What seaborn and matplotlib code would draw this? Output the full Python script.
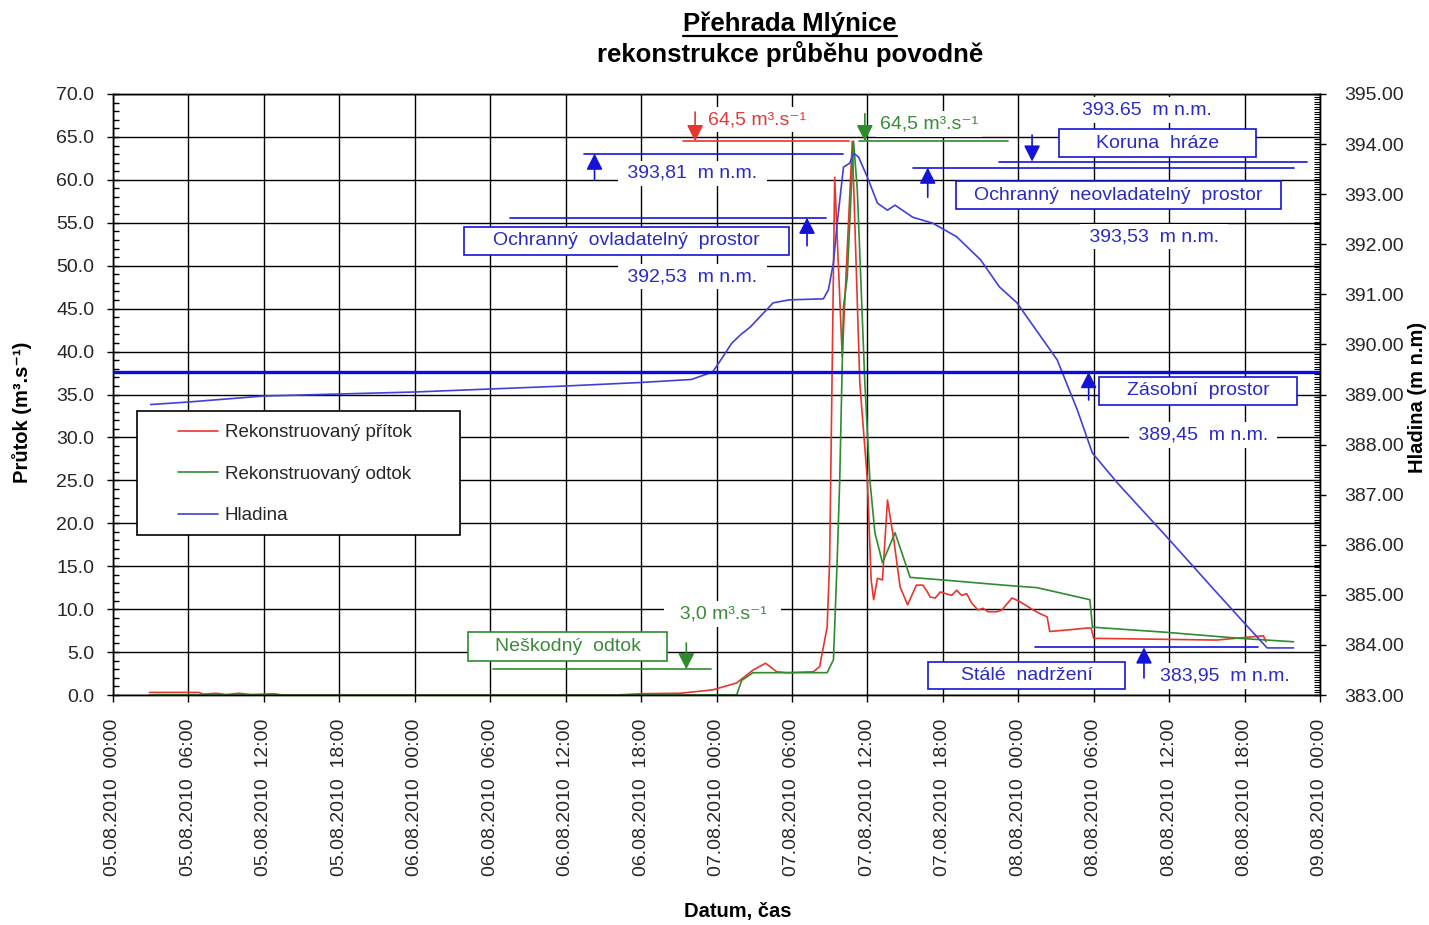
import matplotlib
matplotlib.use("Agg")
import matplotlib.pyplot as plt
import matplotlib.transforms as mtransforms
import seaborn as sns
import pandas as pd
from matplotlib.lines import Line2D
from matplotlib.patches import Rectangle
from matplotlib.ticker import MultipleLocator, FormatStrFormatter

# ---------------- data (hours since 05.08.2010 00:00) ----------------
inflow_hours = [2.9, 6.8, 7.2, 8.2, 9.0, 10.0, 11.0, 12.8, 13.5, 40.0, 42.0, 45.1, 47.7, 49.6,
                50.9, 51.9, 52.8, 53.6, 55.7, 56.2, 56.8, 57.0, 57.4, 58.0, 58.8, 59.4, 60.0,
                60.3, 60.5, 60.8, 61.2, 61.6, 62.1, 62.6, 63.2, 63.9, 64.4, 64.7, 65.0, 65.4,
                65.8, 66.7, 67.1, 67.5, 67.9, 68.3, 68.8, 69.2, 69.6, 70.3, 70.7, 71.5, 72.1,
                73.2, 73.7, 74.3, 74.5, 76.1, 77.5, 77.8, 78.0, 87.8, 91.5, 91.7]
inflow_values = [0.3, 0.3, 0.1, 0.2, 0.05, 0.2, 0.05, 0.15, 0.0, 0.0, 0.15, 0.2, 0.6, 1.4,
                 2.9, 3.7, 2.7, 2.6, 2.7, 3.3, 7.9, 15.7, 60.3, 39.4, 64.5, 36.3, 25.0,
                 13.4, 11.1, 13.6, 13.4, 22.7, 18.1, 12.6, 10.5, 12.8, 12.8, 12.2, 11.4, 11.3,
                 12.0, 11.6, 12.2, 11.6, 11.8, 10.7, 9.9, 10.1, 9.7, 9.7, 9.9, 11.3, 10.9,
                 9.9, 9.5, 9.1, 7.4, 7.6, 7.8, 7.8, 6.6, 6.4, 6.9, 6.2]

outflow_hours = [2.9, 49.6, 50.0, 50.9, 56.8, 57.3, 57.6, 57.8, 58.1, 58.4, 58.9, 59.2, 59.8,
                 60.2, 60.6, 61.2, 62.2, 62.8, 63.4, 66.0, 70.8, 73.5, 77.7, 77.9, 83.8,
                 89.6, 93.9]
outflow_values = [0.0, 0.0, 1.7, 2.6, 2.6, 4.1, 15.7, 25.0, 45.2, 48.7, 64.5, 58.8, 36.3,
                  25.0, 18.9, 15.4, 18.9, 16.3, 13.7, 13.4, 12.8, 12.5, 11.1, 7.9, 7.3,
                  6.6, 6.2]

level_hours = [3.0, 6.0, 12.0, 18.0, 24.0, 30.0, 36.0, 42.0, 46.0, 47.7, 48.5, 49.2, 49.9,
               50.7, 52.5, 53.8, 56.5, 56.9, 57.3, 57.6, 58.1, 58.6, 58.9, 59.3, 60.0,
               60.8, 61.6, 62.2, 63.6, 65.2, 67.1, 69.0, 70.5, 71.9, 75.1, 76.7, 77.9,
               79.9, 83.8, 87.8, 90.7, 91.8, 93.9]
level_values = [388.80, 388.85, 388.97, 389.01, 389.05, 389.11, 389.17, 389.24, 389.30,
                389.45, 389.75, 390.02, 390.19, 390.35, 390.83, 390.89, 390.91, 391.09,
                391.63, 392.42, 393.54, 393.62, 393.82, 393.74, 393.34, 392.82, 392.68,
                392.78, 392.54, 392.42, 392.15, 391.69, 391.15, 390.83, 389.69, 388.69,
                387.83, 387.23, 386.16, 385.04, 384.24, 383.94, 383.94]

tick_hours = [0, 6, 12, 18, 24, 30, 36, 42, 48, 54, 60, 66, 72, 78, 84, 90, 96]
tick_labels = ["05.08.2010  00:00", "05.08.2010  06:00", "05.08.2010  12:00",
               "05.08.2010  18:00", "06.08.2010  00:00", "06.08.2010  06:00",
               "06.08.2010  12:00", "06.08.2010  18:00", "07.08.2010  00:00",
               "07.08.2010  06:00", "07.08.2010  12:00", "07.08.2010  18:00",
               "08.08.2010  00:00", "08.08.2010  06:00", "08.08.2010  12:00",
               "08.08.2010  18:00", "09.08.2010  00:00"]

peak_inflow = 64.5
peak_outflow = 64.5
harmless_outflow = 3.0
max_level = 393.81
crest_level = 393.65
uncontrolled_level = 393.53
controlled_level = 392.53
storage_level = 389.45
permanent_level = 383.95

# ---------------- style ----------------
sns.set_style("white")
plt.rcParams["font.family"] = ["Liberation Sans", "DejaVu Sans"]

RED = "#e8352d"
GREEN = "#2e8b2e"
BLUE = "#4040d8"
ABLUE = "#1414d8"
TBLUE = "#2a2ac8"
TRED = "#e03a3a"
TGREEN = "#3a8a3a"
TICKC = "#262626"

fig = plt.figure(figsize=(14.29, 9.25), dpi=100)
fig.patch.set_facecolor("white")
ax = fig.add_axes([113 / 1429, 1 - 695 / 925, 1207 / 1429, 601 / 925])
ax2 = ax.twinx()

df_in = pd.DataFrame({"t": inflow_hours, "q": inflow_values})
df_out = pd.DataFrame({"t": outflow_hours, "q": outflow_values})
df_lvl = pd.DataFrame({"t": level_hours, "h": level_values})

sns.lineplot(data=df_in, x="t", y="q", ax=ax, color=RED, linewidth=1.2,
             sort=False, estimator=None, legend=False)
sns.lineplot(data=df_out, x="t", y="q", ax=ax, color=GREEN, linewidth=1.2,
             sort=False, estimator=None, legend=False)
sns.lineplot(data=df_lvl, x="t", y="h", ax=ax2, color=BLUE, linewidth=1.2,
             sort=False, estimator=None, legend=False)

ax.set_xlim(0, 96)
ax.set_ylim(0, 70)
ax2.set_ylim(383, 395)

ax.set_axisbelow(True)
ax.grid(True, which="major", color="black", linewidth=1)
ax2.grid(False)

ax.set_xticks(tick_hours)
ax.set_xticklabels(tick_labels, rotation=90, fontsize=14, color=TICKC)
ax.set_yticks(range(0, 71, 5))
ax.yaxis.set_major_formatter(FormatStrFormatter("%.1f"))
ax.yaxis.set_minor_locator(MultipleLocator(1))
ax2.set_yticks(range(383, 396))
ax2.yaxis.set_major_formatter(FormatStrFormatter("%.2f"))
ax2.yaxis.set_minor_locator(MultipleLocator(0.05))

ax.tick_params(axis="x", which="major", direction="out", length=5, width=1,
               pad=12, bottom=True, labelsize=14, labelcolor=TICKC, color="black")
ax.tick_params(axis="y", which="major", direction="inout", length=9, width=1,
               pad=9, left=True, right=False, labelsize=14, labelcolor=TICKC, color="black")
ax.tick_params(axis="y", which="minor", direction="in", length=4.5, width=1,
               left=True, right=False, color="black")
ax2.tick_params(axis="y", which="major", direction="inout", length=9, width=1,
                pad=13, right=True, labelsize=14, labelcolor=TICKC, color="black")
ax2.tick_params(axis="y", which="minor", direction="in", length=4.5, width=0.8,
                right=True, color="black")

for a in (ax, ax2):
    for s in a.spines.values():
        s.set_color("black")
        s.set_linewidth(1)
        s.set_visible(True)

ax.set_xlabel("Datum, čas", fontsize=14.5, fontweight="bold", color="black")
ax.set_ylabel("Průtok (m³.s⁻¹)", fontsize=14.5, fontweight="bold", color="black")
ax2.set_ylabel("Hladina (m n.m)", fontsize=14.5, fontweight="bold", color="black")
ax.xaxis.label.set_va("center")
ax.yaxis.label.set_va("center")
ax2.yaxis.label.set_va("center")
ax.xaxis.set_label_coords(0.518, -0.361)
ax.yaxis.set_label_coords(-0.0754, 0.471)
ax2.yaxis.set_label_coords(1.081, 0.495)

# ---------------- annotations ----------------
trQ = ax.transData     # hours / flow
trH = ax2.transData    # hours / level


def hline(tr, y, x0, x1, color, lw=1.2):
    ax2.add_line(Line2D([x0, x1], [y, y], transform=tr, color=color, lw=lw, zorder=4))


def arrow(tr, x, y0, y1, color):
    ax2.annotate("", xy=(x, y1), xytext=(x, y0), xycoords=tr, textcoords=tr,
                 arrowprops=dict(arrowstyle="-|>,head_length=0.75,head_width=0.38",
                                 color=color, lw=1.2, shrinkA=0, shrinkB=0,
                                 mutation_scale=13), zorder=5)


def label(tr, x, y, s, color, ha="center"):
    ax2.text(x, y, s, transform=tr, ha=ha, va="center", fontsize=14, color=color,
             zorder=6, bbox=dict(facecolor="white", edgecolor="none", pad=3))


def box(tr, x0, x1, y0, y1, s, color, edgecolor):
    ax2.add_patch(Rectangle((x0, y0), x1 - x0, y1 - y0, transform=tr, facecolor="white",
                            edgecolor=edgecolor, lw=1.2, zorder=6))
    ax2.text((x0 + x1) / 2, (y0 + y1) / 2, s, transform=tr, ha="center", va="center",
             fontsize=14, color=color, zorder=7)


# peak inflow
hline(trQ, peak_inflow, 45.3, 58.5, RED)
arrow(trQ, 46.3, 67.9, peak_inflow, RED)
label(trQ, 47.3, 67.0, f"{peak_inflow:.1f}".replace(".", ",") + " m³.s⁻¹", TRED, ha="left")
# peak outflow
hline(trQ, peak_outflow, 59.3, 71.2, GREEN)
arrow(trQ, 59.8, 67.7, peak_outflow, GREEN)
label(trQ, 61.0, 66.5, f"{peak_outflow:.1f}".replace(".", ",") + " m³.s⁻¹", TGREEN, ha="left")
# max level
hline(trH, max_level, 37.5, 58.1, ABLUE)
arrow(trH, 38.3, 393.28, max_level, ABLUE)
label(trH, 46.1, 393.42, " 393,81  m n.m. ", TBLUE)
# crest
hline(trH, crest_level, 70.5, 95.0, ABLUE)
arrow(trH, 73.1, 394.18, crest_level, ABLUE)
label(trH, 82.2, 394.68, "393.65  m n.m.", TBLUE)
box(trH, 75.24, 90.91, 393.74, 394.30, "Koruna  hráze", TBLUE, ABLUE)
# uncontrolled
hline(trH, uncontrolled_level, 63.6, 93.9, ABLUE)
arrow(trH, 64.8, 392.94, uncontrolled_level, ABLUE)
box(trH, 67.05, 92.90, 392.70, 393.26, "Ochranný  neovladatelný  prostor", TBLUE, ABLUE)
label(trH, 82.8, 392.15, " 393,53  m n.m. ", TBLUE)
# controlled
hline(trH, controlled_level, 31.6, 56.7, ABLUE)
arrow(trH, 55.2, 391.97, controlled_level, ABLUE)
box(trH, 27.92, 53.77, 391.79, 392.35, "Ochranný  ovladatelný  prostor", TBLUE, ABLUE)
label(trH, 46.1, 391.35, " 392,53  m n.m. ", TBLUE)
# storage
hline(trH, storage_level, 0, 96, "#0a0ae0", lw=2.4)
arrow(trH, 77.6, 388.89, storage_level, ABLUE)
box(trH, 78.42, 94.17, 388.79, 389.35, "Zásobní  prostor", TBLUE, ABLUE)
label(trH, 86.7, 388.19, " 389,45  m n.m. ", TBLUE)
# harmless outflow
hline(trQ, harmless_outflow, 30.2, 47.6, GREEN)
arrow(trQ, 45.6, 6.06, harmless_outflow, GREEN)
box(trQ, 28.24, 44.06, 3.96, 7.34, "Neškodný  odtok", TGREEN, GREEN)
label(trQ, 48.5, 9.43, "  3,0 m³.s⁻¹  ", TGREEN)
# permanent
hline(trH, permanent_level, 73.3, 91.1, ABLUE)
arrow(trH, 82.0, 383.34, permanent_level, ABLUE)
box(trH, 64.82, 80.49, 383.12, 383.66, "Stálé  nadržení", TBLUE, ABLUE)
label(trH, 88.4, 383.38, "383,95  m n.m.", TBLUE)

# ---------------- legend ----------------
ax2.add_patch(Rectangle((0.0199, 0.2662), 0.2676, 0.2063, transform=ax2.transAxes,
                        facecolor="white", edgecolor="black", lw=1.2, zorder=8))
handles = [Line2D([], [], color=RED, lw=1.2), Line2D([], [], color=GREEN, lw=1.2),
           Line2D([], [], color=BLUE, lw=1.2)]
labels = ["Rekonstruovaný přítok", "Rekonstruovaný odtok", "Hladina"]
leg = ax2.legend(handles, labels, loc="upper left", bbox_to_anchor=(0.0539, 0.4510),
                 frameon=False, borderpad=0, borderaxespad=0, fontsize=13.5,
                 handlelength=2.13, handletextpad=0.35, labelspacing=1.3)
leg.set_zorder(9)
for t in leg.get_texts():
    t.set_color(TICKC)

# ---------------- title ----------------
t1 = fig.text(790 / 1429, 1 - 24 / 925, "Přehrada Mlýnice", ha="center", va="center",
              fontsize=18.5, fontweight="bold", color="black")
fig.text(790 / 1429, 1 - 54 / 925, "rekonstrukce průběhu povodně", ha="center",
         va="center", fontsize=18.5, fontweight="bold", color="black")
fig.canvas.draw()
bb = t1.get_window_extent(renderer=fig.canvas.get_renderer())
fig.add_artist(Line2D([bb.x0, bb.x1], [bb.y0 + 0.5, bb.y0 + 0.5],
                      transform=mtransforms.IdentityTransform(), color="black", lw=1.6))

fig.savefig("out.png", dpi=100, facecolor="white")
